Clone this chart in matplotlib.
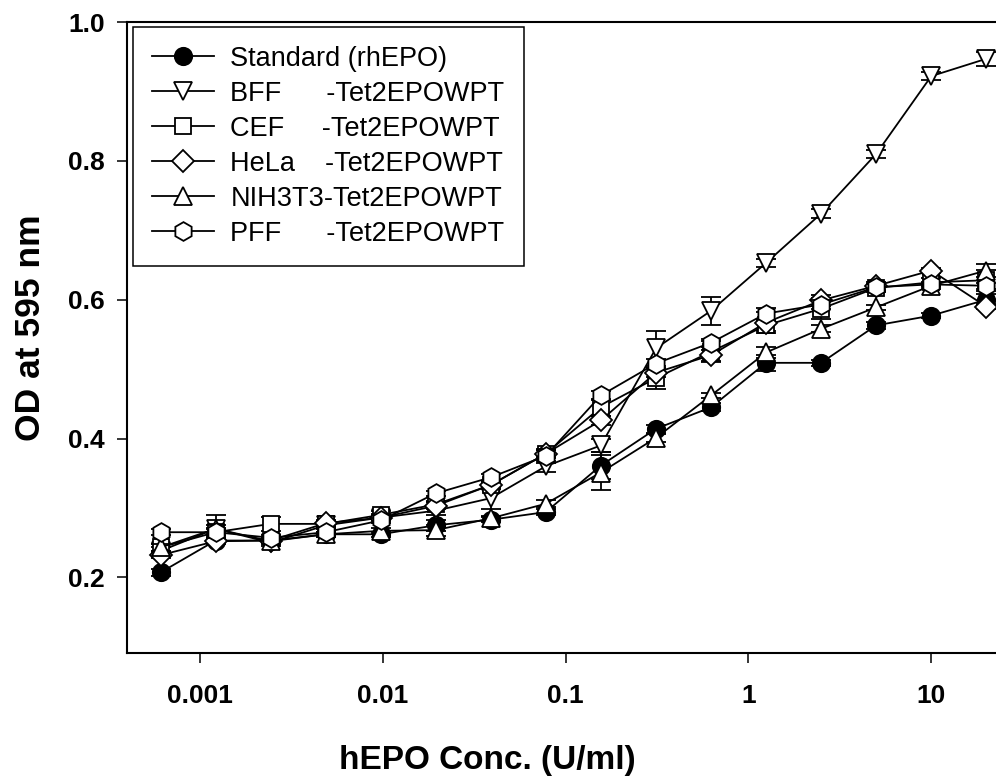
import matplotlib
matplotlib.use('Agg')
import matplotlib.pyplot as plt
import numpy as np

plt.rcParams['font.family'] = ['Liberation Sans', 'DejaVu Sans']

# two-fold dilutions of hEPO (U/ml)
conc = [0.00061, 0.00122, 0.00244, 0.00488, 0.00977, 0.0195, 0.039, 0.078,
        0.156, 0.3125, 0.625, 1.25, 2.5, 5, 10, 20]

std_od = [0.207, 0.253, 0.253, 0.262, 0.262, 0.275, 0.283, 0.294,
          0.361, 0.414, 0.445, 0.509, 0.509, 0.563, 0.577, 0.600]
bff_od = [0.238, 0.270, 0.250, 0.275, 0.286, 0.296, 0.314, 0.360,
          0.390, 0.530, 0.584, 0.653, 0.724, 0.810, 0.922, 0.947]
cef_od = [0.243, 0.265, 0.277, 0.277, 0.290, 0.305, 0.333, 0.378,
          0.445, 0.487, 0.525, 0.563, 0.587, 0.617, 0.625, 0.628]
hela_od = [0.232, 0.252, 0.253, 0.278, 0.286, 0.303, 0.333, 0.378,
           0.426, 0.495, 0.520, 0.567, 0.599, 0.620, 0.642, 0.590]
nih_od = [0.243, 0.270, 0.252, 0.262, 0.267, 0.268, 0.285, 0.306,
          0.351, 0.401, 0.462, 0.524, 0.558, 0.589, 0.620, 0.642]
pff_od = [0.265, 0.265, 0.257, 0.265, 0.282, 0.321, 0.344, 0.375,
          0.462, 0.508, 0.538, 0.580, 0.593, 0.618, 0.622, 0.620]

std_err = [0.005, 0.004, 0.004, 0.004, 0.004, 0.008, 0.004, 0.004,
           0.02, 0.006, 0.006, 0.012, 0.004, 0.005, 0.004, 0.008]
bff_err = [0.005, 0.02, 0.005, 0.004, 0.005, 0.006, 0.015, 0.008,
           0.01, 0.025, 0.02, 0.006, 0.006, 0.006, 0.006, 0.01]
cef_err = [0.005, 0.006, 0.01, 0.004, 0.006, 0.005, 0.006, 0.006,
           0.012, 0.015, 0.015, 0.008, 0.015, 0.006, 0.006, 0.015]
hela_err = [0.004, 0.004, 0.004, 0.004, 0.004, 0.005, 0.005, 0.005,
            0.006, 0.006, 0.008, 0.015, 0.008, 0.006, 0.004, 0.004]
nih_err = [0.005, 0.006, 0.004, 0.004, 0.004, 0.008, 0.004, 0.005,
           0.025, 0.006, 0.004, 0.008, 0.005, 0.004, 0.004, 0.01]
pff_err = [0.004, 0.004, 0.004, 0.004, 0.004, 0.004, 0.005, 0.01,
           0.006, 0.006, 0.006, 0.008, 0.006, 0.005, 0.004, 0.004]

labels = ['Standard (rhEPO)',
          'BFF      -Tet2EPOWPT',
          'CEF     -Tet2EPOWPT',
          'HeLa    -Tet2EPOWPT',
          'NIH3T3-Tet2EPOWPT',
          'PFF      -Tet2EPOWPT']

series = [std_od, bff_od, cef_od, hela_od, nih_od, pff_od]
errors = [std_err, bff_err, cef_err, hela_err, nih_err, pff_err]
markers = ['o', 'v', 's', 'D', '^', 'h']
fills = ['black', 'white', 'white', 'white', 'white', 'white']
sizes = [12.5, 12.5, 11.5, 11.5, 12.5, 13.5]

fig = plt.figure(figsize=(9.96, 7.8), dpi=100)
ax = fig.add_axes([127 / 996, 127 / 780, 877 / 996, 631 / 780])

handles = []
for i in range(len(series)):
    cont = ax.errorbar(conc, series[i], yerr=errors[i], color='black', lw=1.3,
                       marker=markers[i], ms=sizes[i], mfc=fills[i], mec='black',
                       mew=1.3, capsize=7, capthick=1.3, elinewidth=1.3,
                       label=labels[i], zorder=3 + i)
    handles.append(cont[0])

ax.set_xscale('log')
ax.set_xlim(0.0004, 25)
ax.set_ylim(0.091, 1.0)
ax.set_xticks([0.001, 0.01, 0.1, 1, 10])
ax.set_xticklabels(['0.001', '0.01', '0.1', '1', '10'])
ax.set_yticks([0.2, 0.4, 0.6, 0.8, 1.0])
ax.set_yticklabels(['0.2', '0.4', '0.6', '0.8', '1.0'])
ax.minorticks_off()
ax.tick_params(axis='both', direction='out', length=7, width=1.1,
               labelsize=19)
ax.tick_params(axis='x', pad=15)
ax.tick_params(axis='y', pad=9)
for lab in ax.get_xticklabels() + ax.get_yticklabels():
    lab.set_fontweight('bold')
for sp in ['left', 'bottom', 'top']:
    ax.spines[sp].set_linewidth(1.5)
ax.spines['right'].set_visible(False)

fig.text(487 / 996, 1 - 760 / 780, 'hEPO Conc. (U/ml)', ha='center',
         va='center', fontsize=24, fontweight='bold')
fig.text(30 / 996, 1 - 328 / 780, 'OD at 595 nm', ha='center', va='center',
         rotation=90, fontsize=25.5, fontweight='bold')

leg = ax.legend(handles, labels, loc='upper left',
                bbox_to_anchor=(6 / 877, 1 - 5 / 631),
                fontsize=19.5, frameon=True, fancybox=False, framealpha=1,
                edgecolor='black', borderpad=0.7, labelspacing=0.33,
                handlelength=2.3, handletextpad=0.6, borderaxespad=0)
leg.get_frame().set_linewidth(1.1)

plt.savefig('out.png', dpi=100)
